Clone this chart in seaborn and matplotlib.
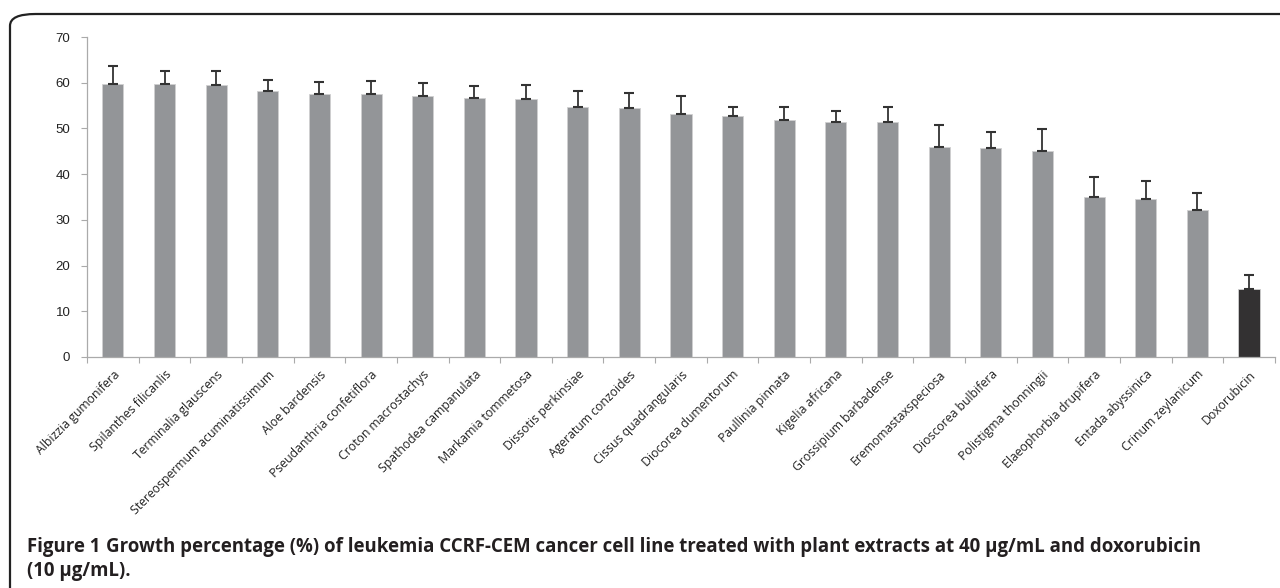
import matplotlib
matplotlib.use("Agg")
import matplotlib.pyplot as plt
import seaborn as sns
import pandas as pd
import numpy as np
from matplotlib.patches import FancyBboxPatch

categories = ["Albizzia gumonifera", "Spilanthes filicanlis", "Terminalia glauscens",
              "Stereospermum acuminatissimum", "Aloe bardensis", "Pseudanthria confetiflora",
              "Croton macrostachys", "Spathodea campanulata", "Markamia tommetosa",
              "Dissotis perkinsiae", "Ageratum conzoides", "Cissus quadrangularis",
              "Diocorea dumentorum", "Paullinia pinnata", "Kigelia africana",
              "Grossipium barbadense", "Eremomastaxspeciosa", "Dioscorea bulbifera",
              "Polistigma thonningii", "Elaeophorbia drupifera", "Entada abyssinica",
              "Crinum zeylanicum", "Doxorubicin"]
growth = [59.8, 59.8, 59.6, 58.1, 57.6, 57.6, 57.1, 56.6, 56.4, 54.6, 54.4, 53.1,
          52.7, 51.8, 51.5, 51.5, 46.0, 45.7, 45.0, 35.0, 34.5, 32.2, 14.9]
err = [3.8, 2.8, 3.0, 2.5, 2.6, 2.8, 2.8, 2.6, 3.0, 3.6, 3.3, 3.9,
       2.1, 2.8, 2.4, 3.3, 4.7, 3.5, 4.8, 4.3, 4.1, 3.7, 3.0]
yticks = [0, 10, 20, 30, 40, 50, 60, 70]

df = pd.DataFrame({"cat": categories, "val": growth})
palette = {c: ("#333132" if c == "Doxorubicin" else "#939598") for c in categories}

fig = plt.figure(figsize=(12.8, 5.88), dpi=100)
ax = fig.add_axes([0.068, 0.393, 0.928, 0.544])
sns.barplot(data=df, x="cat", y="val", hue="cat", palette=palette, legend=False,
            width=0.41, ax=ax, saturation=1, edgecolor="#d0d0d0", linewidth=0.6)
x = np.arange(len(categories))
ax.errorbar(x, growth, yerr=[np.zeros(len(err)), err], fmt="none",
            ecolor="#333333", elinewidth=1.3, capsize=3.5, capthick=1.5)

ax.set_ylim(0, 70)
ax.set_xlim(-0.5, len(categories) - 0.5)
ax.set_yticks(yticks)
ax.set_yticklabels([str(t) for t in yticks], fontsize=9.5, color="#222222",
                   family="Liberation Sans")
ax.set_xticks(x)
ax.set_xticklabels(categories, rotation=45, ha="right", rotation_mode="anchor",
                   fontsize=8.8, color="#222222", family="Open Sans")
ax.tick_params(axis="x", length=0, pad=8)
ax.set_xticks(np.arange(-0.5, len(categories), 1), minor=True)
ax.tick_params(axis="x", which="minor", length=4, color="#aaaaaa", width=0.8)
ax.tick_params(axis="y", length=4, color="#aaaaaa", width=0.8, pad=8)
ax.set_xlabel("")
ax.set_ylabel("")
for s in ["top", "right"]:
    ax.spines[s].set_visible(False)
for s in ["left", "bottom"]:
    ax.spines[s].set_color("#aaaaaa")
    ax.spines[s].set_linewidth(0.9)

frame = FancyBboxPatch((10 / 1280, -0.05), 1.1, 1 - 14 / 588 + 0.05,
                       boxstyle="round,pad=0,rounding_size=0.02",
                       transform=fig.transFigure, fill=False,
                       edgecolor="#222222", linewidth=1.6, clip_on=False)
fig.patches.append(frame)

y1 = 1 - 547 / 588
cap_fs = 13.4
t1 = fig.text(27 / 1280, y1, "Figure 1", va="center", ha="left",
              fontsize=cap_fs, color="#231f20", fontweight="bold", family="Open Sans")
fig.canvas.draw()
bb = t1.get_window_extent()
fig.text((bb.x1 + 6) / 1280, y1,
         "Growth percentage (%) of leukemia CCRF-CEM cancer cell line treated with plant extracts at 40 \u00b5g/mL and doxorubicin",
         va="center", ha="left", fontsize=cap_fs, color="#231f20", fontweight="bold",
         family="Open Sans")
fig.text(27 / 1280, 1 - 571 / 588, "(10 \u00b5g/mL).", va="center", ha="left",
         fontsize=cap_fs, color="#231f20", fontweight="bold", family="Open Sans")

fig.savefig("out.png", dpi=100)
